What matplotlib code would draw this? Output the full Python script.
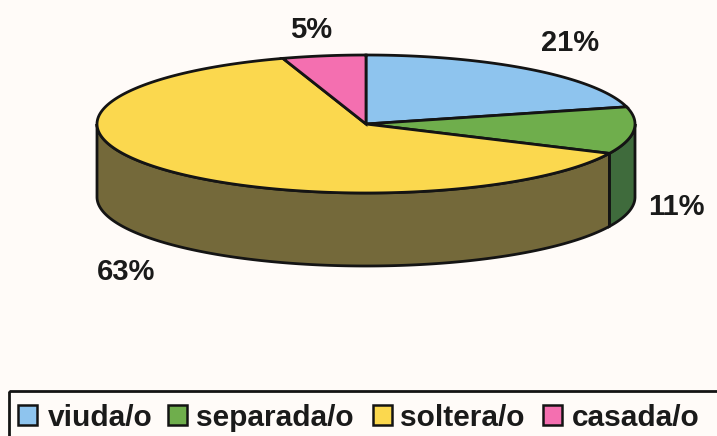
import numpy as np
import matplotlib
matplotlib.use('Agg')
import matplotlib.pyplot as plt
from matplotlib.patches import Rectangle

categories = ['viuda/o', 'separada/o', 'soltera/o', 'casada/o']
values = [21, 11, 63, 5]
labels = ['21%', '11%', '63%', '5%']
colors = ['#8ec4ee', '#6fae4c', '#fbd84e', '#f46fb0']
side_colors = ['#4a6a85', '#3f6b3c', '#74693a', '#8a3f63']

# pie geometry in pixels
cx, cy = 366, 124
rx, ry = 269, 69
depth = 73
ink = '#141414'

fig = plt.figure(figsize=(7.17, 4.36), dpi=100, facecolor='#fffbf8')
ax = fig.add_axes([0, 0, 1, 1])
ax.set_xlim(0, 717)
ax.set_ylim(436, 0)
ax.axis('off')


def rim(a0, a1):
    t = np.radians(np.linspace(a0, a1, 200))
    return cx + rx * np.sin(t), cy - ry * np.cos(t)


edges = np.cumsum([0] + values) * 3.6

# side wall, only the front half shows
for i in range(len(values)):
    a0, a1 = max(edges[i], 90), min(edges[i + 1], 270)
    if a1 <= a0:
        continue
    x, y = rim(a0, a1)
    ax.fill(np.r_[x, x[::-1]], np.r_[y, y[::-1] + depth],
            fc=side_colors[i], ec=ink, lw=2, zorder=2)

# top face
for i in range(len(values)):
    x, y = rim(edges[i], edges[i + 1])
    ax.fill(np.r_[cx, x], np.r_[cy, y], fc=colors[i], ec=ink, lw=2, zorder=3)

pct_pos = [(570, 43), (676, 207), (126, 272), (311, 30)]
for s, p in zip(labels, pct_pos):
    ax.text(p[0], p[1], s, fontsize=21, fontweight='bold', family='Liberation Sans',
            color='#1a1a1a', ha='center', va='center')

# legend box runs off the bottom of the image
ax.add_patch(Rectangle((9, 391), 720, 60, fc='none', ec=ink, lw=2))
swatch_x = [18, 168, 373, 543]
text_x = [48, 196, 400, 572]
for i in range(len(categories)):
    ax.add_patch(Rectangle((swatch_x[i], 405), 19, 20, fc=colors[i], ec=ink, lw=1.8))
    ax.text(text_x[i], 418, categories[i], fontsize=21.5, fontweight='bold',
            family='Liberation Sans', color='#1a1a1a', va='center')

fig.savefig('out.png', dpi=100, facecolor=fig.get_facecolor())
